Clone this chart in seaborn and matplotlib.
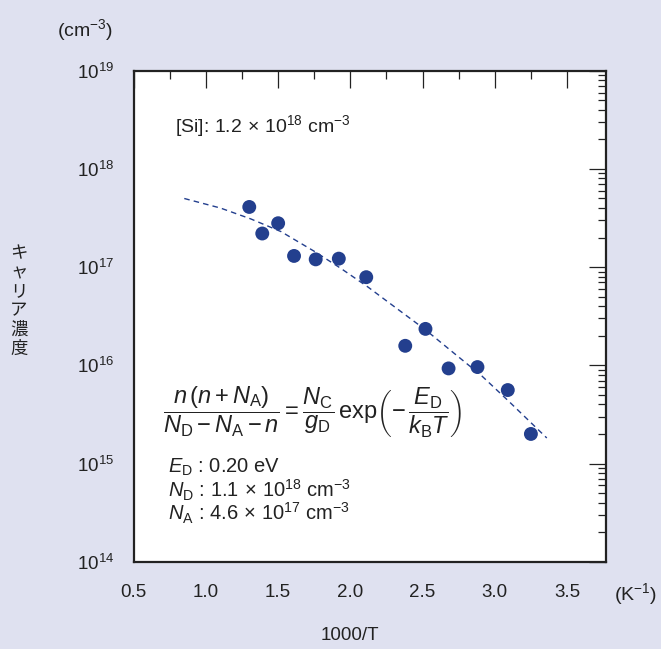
import matplotlib
matplotlib.use("Agg")
import matplotlib.pyplot as plt
import matplotlib.ticker as mticker
import seaborn as sns
import pandas as pd

# ---- data ----
inv_T = [1.30, 1.39, 1.50, 1.61, 1.76, 1.92, 2.11, 2.38, 2.52, 2.68, 2.88, 3.09, 3.25]
carrier = [4.1e17, 2.2e17, 2.8e17, 1.3e17, 1.2e17, 1.22e17, 7.9e16,
           1.58e16, 2.35e16, 9.3e15, 9.6e15, 5.6e15, 2.0e15]
fit_x = [0.85, 1.10, 1.31, 1.52, 1.75, 1.93, 2.12, 2.30, 2.52, 2.72, 2.91, 3.09, 3.36]
fit_y = [5.0e17, 4.0e17, 3.1e17, 2.3e17, 1.45e17, 9.8e16, 6.3e16, 4.0e16,
         2.3e16, 1.32e16, 7.8e15, 4.4e15, 1.82e15]
x_ticks = [0.5, 1.0, 1.5, 2.0, 2.5, 3.0, 3.5]
x_tick_labels = ["0.5", "1.0", "1.5", "2.0", "2.5", "3.0", "3.5"]
y_decades = [14, 15, 16, 17, 18, 19]

sns.set_style("white")
plt.rcParams["font.family"] = ["Liberation Sans", "DejaVu Sans"]
plt.rcParams["mathtext.fontset"] = "custom"
plt.rcParams["mathtext.rm"] = "Liberation Sans"
plt.rcParams["mathtext.it"] = "Liberation Sans:italic"
plt.rcParams["mathtext.bf"] = "Liberation Sans:bold"

BG = "#dfe1f0"
BLUE = "#233f8e"
INK = "#222222"

fig = plt.figure(figsize=(6.61, 6.49), dpi=100, facecolor=BG)
ax = fig.add_axes([0.2023, 0.1345, 0.7145, 0.7565])
ax.set_facecolor("white")

pts = pd.DataFrame({"x": inv_T, "y": carrier})
fit = pd.DataFrame({"x": fit_x, "y": fit_y})

sns.lineplot(data=fit, x="x", y="y", ax=ax, sort=False, estimator=None,
             color=BLUE, lw=1.0, linestyle=(0, (4, 3)))
sns.scatterplot(data=pts, x="x", y="y", ax=ax, s=100, color=BLUE,
                edgecolor="none", zorder=3)

ax.set_yscale("log")
ax.set_xlim(0.5, 3.77)
ax.set_ylim(1e14, 1e19)

ax.xaxis.set_major_locator(mticker.FixedLocator(x_ticks))
ax.xaxis.set_major_formatter(mticker.FixedFormatter(x_tick_labels))
ax.xaxis.set_minor_locator(mticker.FixedLocator([0.75, 1.25, 1.75, 2.25, 2.75, 3.25]))
ax.yaxis.set_major_locator(mticker.FixedLocator([10.0 ** d for d in y_decades]))
ax.yaxis.set_major_formatter(mticker.FixedFormatter([r"$10^{%d}$" % d for d in y_decades]))
ax.yaxis.set_minor_locator(mticker.LogLocator(base=10, subs=range(2, 10), numticks=20))
ax.yaxis.set_minor_formatter(mticker.NullFormatter())

ax.tick_params(which="both", direction="in", top=True, right=True,
               color=INK, width=0.9)
ax.tick_params(which="major", length=12.5)
ax.tick_params(which="minor", length=6)
ax.tick_params(axis="x", which="major", labelsize=13.5, pad=16, labelcolor=INK)
ax.tick_params(axis="y", which="major", labelsize=13.5, pad=14, labelcolor=INK)
for s in ax.spines.values():
    s.set_linewidth(1.6)
    s.set_color(INK)

ax.set_xlabel("")
ax.set_ylabel("")

# axis titles / units
fig.text(85 / 661, 1 - 30 / 649, r"(cm$^{-3}$)", ha="center", va="center",
         fontsize=14, color=INK)
fig.text(636 / 661, 1 - 594 / 649, r"(K$^{-1}$)", ha="center", va="center",
         fontsize=14, color=INK)
fig.text(350 / 661, 1 - 636 / 649, "1000/T", ha="center", va="center",
         fontsize=13.5, color=INK)
fig.text(19 / 661, 1 - 301 / 649, "キ\nャ\nリ\nア\n濃\n度", ha="center", va="center",
         fontsize=12.5, linespacing=1.07, color=INK,
         family=["Noto Sans CJK JP", "DejaVu Sans"])

# annotations inside the plot
fig.text(175 / 661, 1 - 126 / 649, r"[Si]: $1.2\,\times\,10^{18}$ cm$^{-3}$",
         ha="left", va="center", fontsize=14, color=INK)
eq = (r"$\dfrac{n\,(n+N_{\mathrm{A}})}{N_{\mathrm{D}}-N_{\mathrm{A}}-n}"
      r"=\dfrac{N_{\mathrm{C}}}{g_{\mathrm{D}}}\,\mathrm{exp}"
      r"\left(-\,\dfrac{E_{\mathrm{D}}}{k_{\mathrm{B}}T}\right)$")
fig.text(163 / 661, 1 - 412 / 649, eq, ha="left", va="center", fontsize=17,
         color=INK)
fig.text(168 / 661, 1 - 467 / 649, r"$E_{\mathrm{D}}$ : 0.20 eV",
         ha="left", va="center", fontsize=14.5, color=INK)
fig.text(168 / 661, 1 - 490 / 649,
         r"$N_{\mathrm{D}}$ : $1.1\,\times\,10^{18}$ cm$^{-3}$",
         ha="left", va="center", fontsize=14.5, color=INK)
fig.text(168 / 661, 1 - 513 / 649,
         r"$N_{\mathrm{A}}$ : $4.6\,\times\,10^{17}$ cm$^{-3}$",
         ha="left", va="center", fontsize=14.5, color=INK)

fig.savefig("out.png", dpi=100, facecolor=BG)
